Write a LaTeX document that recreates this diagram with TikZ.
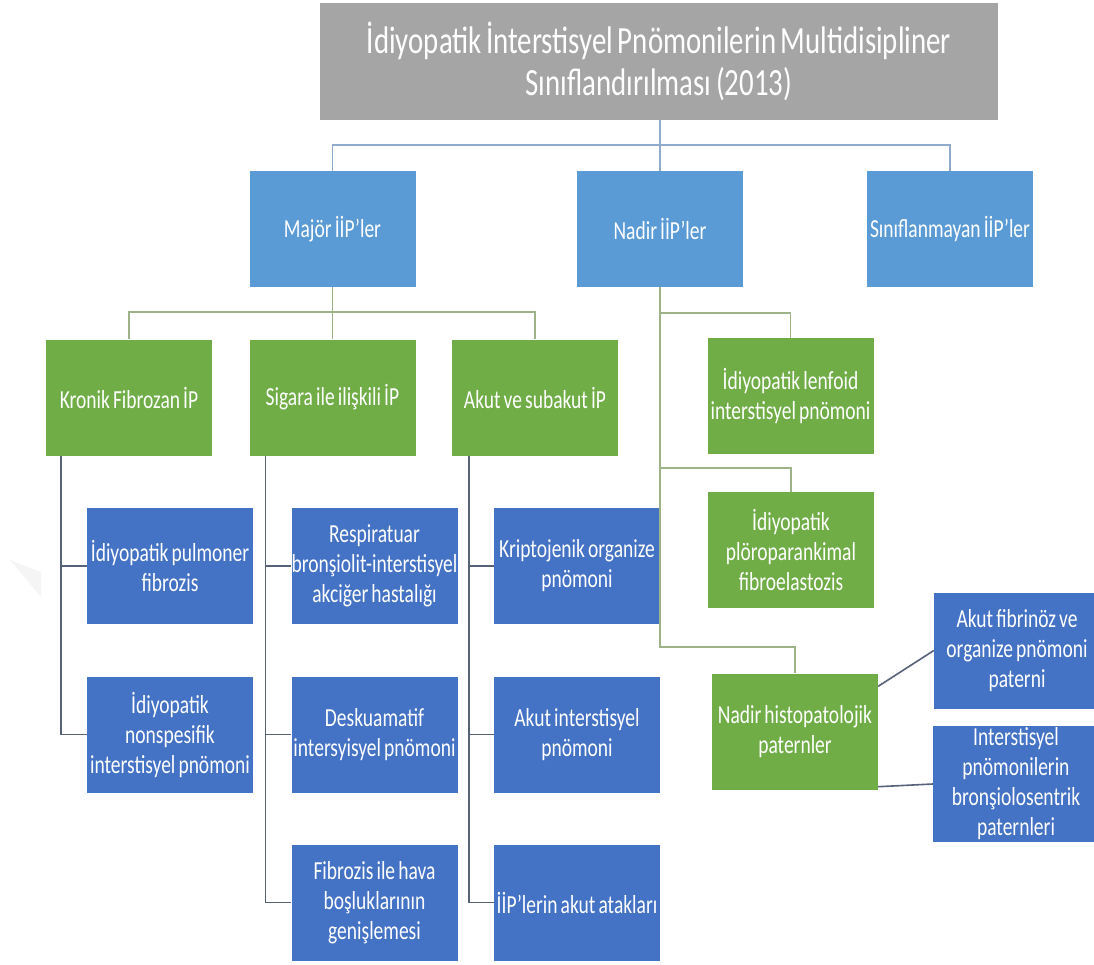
\documentclass[tikz,border=0pt]{standalone}
\usepackage{fontspec}
\setmainfont{Carlito}[FakeStretch=0.75,WordSpace=0.7]
\usepackage{xcolor}
\usepackage{tikz}

\definecolor{titlegray}{HTML}{A5A5A5}
\definecolor{lightblue}{HTML}{5B9BD5}
\definecolor{leafgreen}{HTML}{70AD47}
\definecolor{darkblue}{HTML}{4472C4}
\definecolor{topwire}{HTML}{8FAACB}
\definecolor{greenwire}{HTML}{9DB286}
\definecolor{lowwire}{HTML}{56627A}

\begin{document}
\begin{tikzpicture}[x=1pt,y=-1pt,
	box/.style={minimum width=166pt,minimum height=116pt,inner sep=0pt,
		align=center,text=white,font=\fontsize{26}{30}\selectfont},
	toplevel/.style={box,fill=lightblue},
	greenbox/.style={box,fill=leafgreen},
	bluebox/.style={box,fill=darkblue},
	topline/.style={draw=topwire,line width=1.6pt},
	greenline/.style={draw=greenwire,line width=1.6pt},
	lowline/.style={draw=lowwire,line width=1.6pt}]
	\useasboundingbox (0,0) rectangle (1094,965);
	\fill[black!4] (10,560) -- (41,572) -- (41,597) -- cycle;

	\node[fill=titlegray,minimum width=678pt,minimum height=117pt,inner sep=0pt,
		align=center,text=white,font=\fontsize{38.5}{42}\selectfont]
		(title) at (659,61.5) {İdiyopatik İnterstisyel Pnömonilerin Multidisipliner\\Sınıflandırılması (2013)};

	\node[toplevel] (maj) at (332.5,229) {Majör İİP’ler};
	\node[toplevel] (nad) at (660,229) {Nadir İİP’ler};
	\node[toplevel] (sin) at (950,229) {Sınıflanmayan İİP’ler};

	\node[greenbox] (kfi) at (129,397.5) {Kronik Fibrozan İP};
	\node[greenbox] (sig) at (332.5,397.5) {Sigara ile ilişkili İP};
	\node[greenbox] (aks) at (535,397.5) {Akut ve subakut İP};
	\node[greenbox] (lip) at (790.5,396) {İdiyopatik lenfoid\\interstisyel pnömoni};
	\node[greenbox] (ppf) at (791,550) {İdiyopatik\\plöroparankimal\\fibroelastozis};
	\node[greenbox] (nhp) at (795,731.5) {Nadir histopatolojik\\paternler};

	\node[bluebox] (ipf) at (170,566) {İdiyopatik pulmoner\\fibrozis};
	\node[bluebox] (nsip) at (170,734.5) {İdiyopatik\\nonspesifik\\interstisyel pnömoni};
	\node[bluebox] (rbi) at (374.5,566) {Respiratuar\\bronşiolit-interstisyel\\akciğer hastalığı};
	\node[bluebox] (dip) at (374.5,734.5) {Deskuamatif\\intersyisyel pnömoni};
	\node[bluebox] (fhb) at (374.5,902.5) {Fibrozis ile hava\\boşluklarının\\genişlemesi};
	\node[bluebox] (kop) at (577,566) {Kriptojenik organize\\pnömoni};
	\node[bluebox] (aip) at (577,734.5) {Akut interstisyel\\pnömoni};
	\node[bluebox] (aat) at (577,902.5) {İİP’lerin akut atakları};
	\node[bluebox] (afo) at (1017,650.5) {Akut fibrinöz ve\\organize pnömoni\\paterni};
	\node[bluebox] (bip) at (1016,784) {Interstisyel\\pnömonilerin\\bronşiolosentrik\\paternleri};

	\draw[topline] (nad.north) -- (nad.north |- title.south);
	\draw[topline] (maj.north) -- ++(0,-26) -| (sin.north);

	\draw[greenline] (maj.south) -- (sig.north);
	\draw[greenline] (kfi.north) -- ++(0,-27) -| (aks.north);
	\draw[greenline] (nad.south) -- ++(0,360) -| (nhp.north);
	\draw[greenline] (nad.south) ++(0,26) -| (lip.north);
	\draw[greenline] (nad.south) ++(0,181) -| (ppf.north);

	\draw[lowline] ([xshift=-68pt]kfi.south) |- (nsip.west);
	\draw[lowline] ([xshift=-68pt]kfi.south) |- (ipf.west);
	\draw[lowline] ([xshift=-67pt]sig.south) |- (fhb.west);
	\draw[lowline] ([xshift=-67pt]sig.south) |- (dip.west);
	\draw[lowline] ([xshift=-67pt]sig.south) |- (rbi.west);
	\draw[lowline] ([xshift=-66pt]aks.south) |- (aat.west);
	\draw[lowline] ([xshift=-66pt]aks.south) |- (aip.west);
	\draw[lowline] ([xshift=-66pt]aks.south) |- (kop.west);

	\draw[lowline] ([yshift=-13pt]nhp.north east) -- (afo.west);
	\draw[lowline] ([yshift=3pt]nhp.south east) -- (bip.west);
\end{tikzpicture}
\end{document}
